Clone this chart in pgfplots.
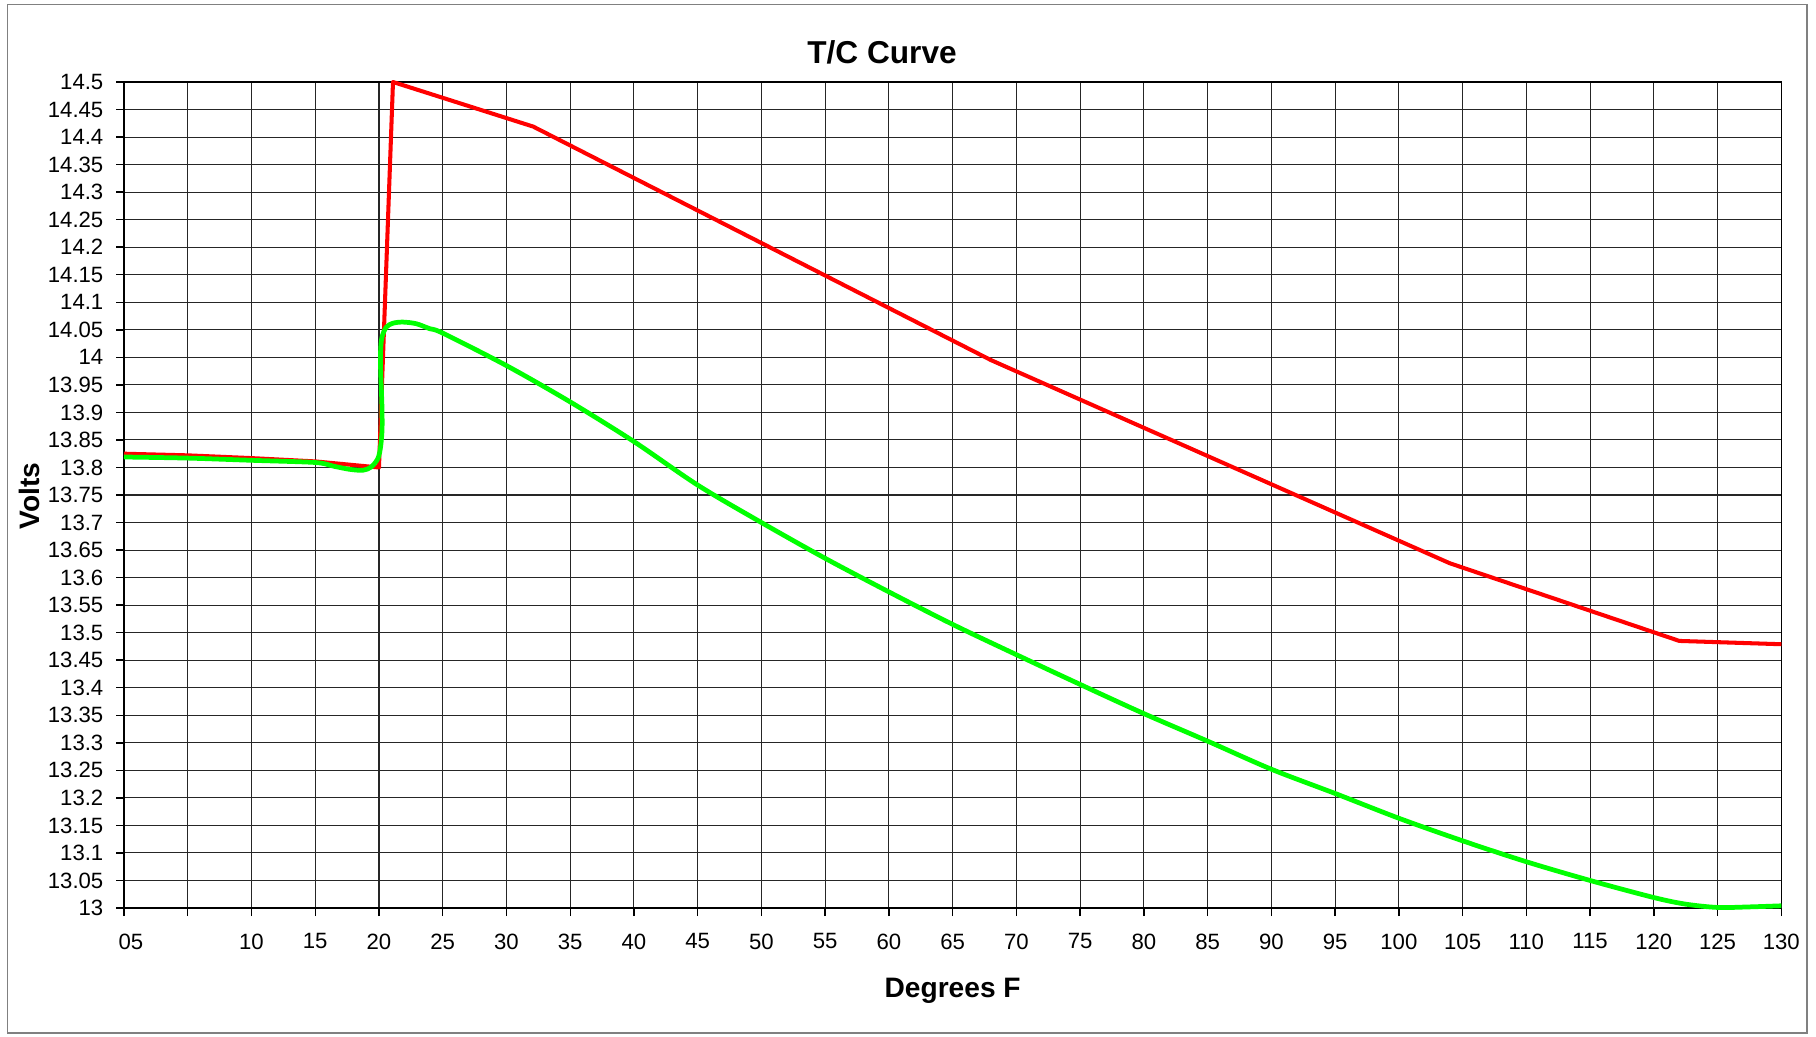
\documentclass[border=0pt]{standalone}
\usepackage{fontspec}
\setmainfont{Liberation Sans}
\usepackage{pgfplots}
\pgfplotsset{compat=1.18}
\begin{document}
\begin{tikzpicture}
\useasboundingbox (0,0) rectangle (181.6mm,103.6mm);
\draw[draw=black!50, line width=0.45pt] (0.73mm,0.3mm) rectangle (180.67mm,103.15mm);
\begin{axis}[
  at={(12.4mm,12.8mm)}, anchor=south west,
  scale only axis, width=165.73mm, height=82.6mm,
  xmin=0, xmax=130, ymin=13, ymax=14.5,
  clip=false,
  axis line style={black, line width=0.4pt},
  xtick={0,5,10,15,20,25,30,35,40,45,50,55,60,65,70,75,80,85,90,95,100,105,110,115,120,125,130},
  xticklabels={\kern1.4mm 05,,10,15,20,25,30,35,40,45,50,55,60,65,70,75,80,85,90,95,100,105,110,115,120,125,130},
  ytick={13,13.05,13.1,13.15,13.2,13.25,13.3,13.35,13.4,13.45,13.5,13.55,13.6,13.65,13.7,13.75,13.8,13.85,13.9,13.95,14,14.05,14.1,14.15,14.2,14.25,14.3,14.35,14.4,14.45,14.5},
  scaled y ticks=false,
  /pgf/number format/fixed, /pgf/number format/precision=2,
  /pgf/number format/assume math mode=true,
  xticklabel style={anchor=north, inner sep=0pt, yshift=-1.7mm},
  yticklabel style={anchor=east, inner sep=0pt, xshift=-1.2mm},
  ticklabel style={font=\fontsize{6.3}{7}\selectfont},
  grid=major, major grid style={black!85, line width=0.3pt},
  tick align=outside, major tick length=0.8mm, tick pos=left,
  tick style={black, line width=0.4pt},
  every axis title shift=0pt,
  title={T/C Curve},
  title style={font=\bfseries\fontsize{9}{10.8}\selectfont, at={(axis description cs:0.4574,1.0363)}, anchor=center, inner sep=0pt},
  xlabel={Degrees F},
  xlabel style={font=\bfseries\fontsize{8}{9.6}\selectfont, at={(axis description cs:0.5,-0.1081)}, anchor=base, inner sep=0pt},
  ylabel={Volts},
  ylabel style={font=\bfseries\fontsize{8}{9.6}\selectfont, at={(axis description cs:-0.0512,0.4988)}, anchor=base, inner sep=0pt},
]
\addplot[red, line width=1.15pt, line join=round] coordinates {
 (0,13.825) (5,13.822) (10,13.817) (15,13.811) (20,13.800) (21.1,14.500)
 (32.1,14.419) (68,13.995) (104,13.626) (122,13.485) (130,13.479)
};
\addplot[color={rgb,255:red,0;green,255;blue,0}, line width=1.35pt, smooth, tension=0.5] coordinates {
 (0,13.819) (5,13.817) (10,13.813) (15,13.809) (16.4,13.8025) (17.7,13.7966)
 (18.75,13.795) (19.4,13.801) (19.92,13.8165) (20.13,13.838) (20.24,13.868)
 (20.24,13.904) (20.19,13.94) (20.13,13.977) (20.13,14.013) (20.24,14.037)
 (20.58,14.055) (21.1,14.062) (21.88,14.064) (22.93,14.061) (23.98,14.052)
 (25,14.044) (30,13.985) (35,13.919) (40,13.847) (45,13.768) (50,13.70)
 (55,13.635) (60,13.574) (65,13.515) (70,13.46) (75,13.406) (80,13.353)
 (85,13.303) (90,13.252) (95,13.208) (100,13.163) (105,13.122) (110,13.084)
 (115,13.050) (120,13.019) (122.5,13.007) (125,13.001) (127.5,13.002) (130,13.004)
};
\end{axis}
\end{tikzpicture}
\end{document}
